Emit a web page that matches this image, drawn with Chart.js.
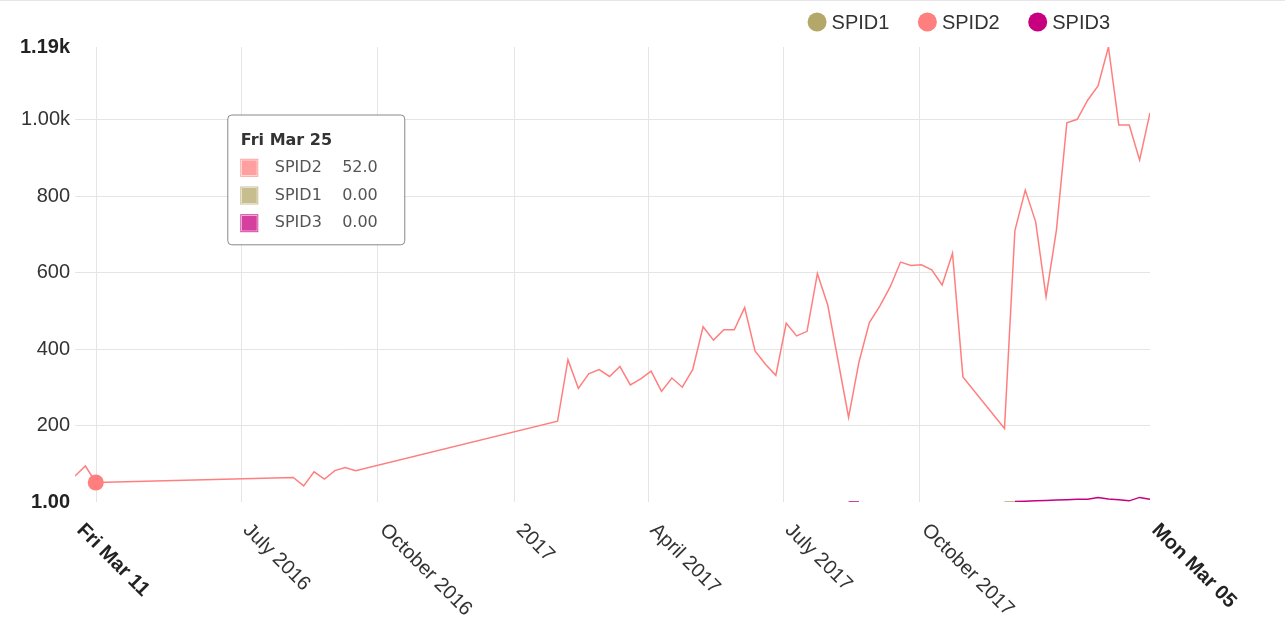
<!DOCTYPE html>
<html>
<head>
<meta charset="utf-8">
<script src="https://cdn.jsdelivr.net/npm/chart.js@4/dist/chart.umd.min.js"></script>
<style>
  html, body { margin: 0; padding: 0; background: #fff; }
  #wrap { width: 1285px; height: 618px; border-top: 1px solid #e6e6e6; position: relative; }
</style>
</head>
<body>
<div id="wrap"><canvas id="chart"></canvas></div>
<script>
// --- Data ---
// SPID2 is reported on every date below; the other two only on a few of them
const dates = [
    '2016-03-11', '2016-03-18', '2016-03-25', '2016-08-05', '2016-08-12', '2016-08-19', '2016-08-26',
    '2016-09-02', '2016-09-09', '2016-09-16',
    '2017-01-30', '2017-02-06', '2017-02-13', '2017-02-20', '2017-02-27', '2017-03-06', '2017-03-13',
    '2017-03-20', '2017-03-27', '2017-04-03', '2017-04-10', '2017-04-17', '2017-04-24', '2017-05-01',
    '2017-05-08', '2017-05-15', '2017-05-22', '2017-05-29', '2017-06-05', '2017-06-12', '2017-06-19',
    '2017-06-26', '2017-07-03', '2017-07-10', '2017-07-17', '2017-07-24', '2017-07-31',
    '2017-08-14', '2017-08-21', '2017-08-28', '2017-09-04', '2017-09-11', '2017-09-18', '2017-09-25',
    '2017-10-02', '2017-10-09', '2017-10-16', '2017-10-23', '2017-10-30',
    '2017-11-27', '2017-12-04', '2017-12-11', '2017-12-18', '2017-12-25',
    '2018-01-01', '2018-01-08', '2018-01-15', '2018-01-22', '2018-01-29', '2018-02-05', '2018-02-12',
    '2018-02-19', '2018-02-26', '2018-03-05'
];
const spid2 = [
    69, 95, 52, 65, 43, 80, 61,
    83, 91, 83,
    212, 373, 298, 336, 347, 329, 355,
    307, 323, 343, 290, 325, 301, 347,
    459, 424, 451, 451, 509, 396, 361,
    332, 468, 435, 447, 598, 515,
    222, 367, 470, 513, 563, 628, 619,
    621, 608, 568, 651, 328,
    193, 710, 816, 733, 537,
    712, 992, 1001, 1051, 1088, 1190, 986,
    986, 895, 1018
];
const spid1Dates = ['2017-11-27', '2017-12-04'];
const spid1 = [1, 1];
const spid3Dates = [
    '2017-08-14', '2017-08-21',
    '2017-12-04', '2017-12-11', '2017-12-18', '2017-12-25', '2018-01-01', '2018-01-08', '2018-01-15',
    '2018-01-22', '2018-01-29', '2018-02-05', '2018-02-12', '2018-02-19', '2018-02-26', '2018-03-05'
];
const spid3 = [1, 1, 2, 3, 4, 5, 6, 7, 8, 8, 13, 9, 7, 4, 13, 8];

const seriesNames = ['SPID1', 'SPID2', 'SPID3'];
const seriesColors = ['#b3a76a', '#ff7f7f', '#c6007e'];
const tooltipColors = ['#c8bd8f', '#ff9f9f', '#d5409f'];

const xTickDates = ['2016-03-11', '2016-07-01', '2016-10-01', '2017-01-01', '2017-04-01', '2017-07-01', '2017-10-01', '2018-03-05'];
const xTickLabels = ['Fri Mar 11', 'July 2016', 'October 2016', '2017', 'April 2017', 'July 2017', 'October 2017', 'Mon Mar 05'];
const yTickValues = [1, 200, 400, 600, 800, 1000, 1190];
const yTickLabels = ['1.00', '200', '400', '600', '800', '1.00k', '1.19k'];

const hoverDate = '2016-03-25';

// --- Helpers ---
const FONT = '"Liberation Sans", Arial, sans-serif';
const TIP_FONT = '"DejaVu Sans", sans-serif';
const GRID = '#e5e5e5';
const ts = d => Date.parse(d);

function fmt(v) {
    if (v == null || v === 0) return '0.00';
    if (Math.abs(v) >= 1000) return (v / 1000).toPrecision(3) + 'k';
    return v.toPrecision(3);
}

function shortDate(t) {
    const d = new Date(t);
    const wd = ['Sun', 'Mon', 'Tue', 'Wed', 'Thu', 'Fri', 'Sat'][d.getUTCDay()];
    const mo = ['Jan', 'Feb', 'Mar', 'Apr', 'May', 'Jun', 'Jul', 'Aug', 'Sep', 'Oct', 'Nov', 'Dec'][d.getUTCMonth()];
    return wd + ' ' + mo + ' ' + String(d.getUTCDate()).padStart(2, '0');
}

// one point per date, null where the series has no value (breaks the line)
function series(sDates, sValues) {
    return dates.map(d => {
        const i = sDates.indexOf(d);
        return { x: ts(d), y: i < 0 ? null : sValues[i] };
    });
}

const seriesData = [series(spid1Dates, spid1), series(dates, spid2), series(spid3Dates, spid3)];

const datasets = seriesNames.map((name, i) => ({
    label: name,
    data: seriesData[i],
    borderColor: seriesColors[i],
    backgroundColor: seriesColors[i],
    borderWidth: 1.5,
    pointRadius: 0,
    pointHoverRadius: 8,
    pointHoverBorderWidth: 0,
    pointHoverBackgroundColor: seriesColors[i],
    spanGaps: false,
    tension: 0
}));

const edgeColor = (c, n) => (c.index === 0 || c.index === n - 1) ? 'rgba(0,0,0,0)' : GRID;

// --- Plugins ---
const guideLine = {
    id: 'guideLine',
    beforeDatasetsDraw(chart) {
        const { ctx, chartArea } = chart;
        const x = Math.round(chart.scales.x.getPixelForValue(ts(hoverDate))) + 0.5;
        ctx.save();
        ctx.strokeStyle = GRID;
        ctx.lineWidth = 1;
        ctx.beginPath();
        ctx.moveTo(x, chartArea.top);
        ctx.lineTo(x, chartArea.bottom);
        ctx.stroke();
        ctx.restore();
    }
};

const slantedLabels = {
    id: 'slantedLabels',
    afterDraw(chart) {
        const { ctx } = chart;
        const s = chart.scales.x;
        s.ticks.forEach((t, i) => {
            const px = s.getPixelForValue(t.value);
            const edge = i === 0 || i === s.ticks.length - 1;
            ctx.save();
            ctx.translate(px + 12, s.top + 18);
            ctx.rotate(Math.PI / 4);
            ctx.font = (edge ? 'bold ' : '') + '20px ' + FONT;
            ctx.fillStyle = edge ? '#222' : '#333';
            ctx.textAlign = 'left';
            ctx.textBaseline = 'top';
            ctx.fillText(xTickLabels[i], 0, 0);
            ctx.restore();
        });
    }
};

const dotLegend = {
    id: 'dotLegend',
    afterDraw(chart) {
        const { ctx } = chart;
        const r = 9.5, gap = 5, spacing = 28.5, right = 1110, cy = 21;
        ctx.save();
        ctx.font = '20px ' + FONT;
        ctx.textBaseline = 'middle';
        const items = chart.data.datasets.map(ds => ({ label: ds.label, color: ds.borderColor, w: ctx.measureText(ds.label).width }));
        const total = items.reduce((s, it) => s + 2 * r + gap + it.w, 0) + spacing * (items.length - 1);
        let x = right - total;
        items.forEach(it => {
            ctx.fillStyle = it.color;
            ctx.beginPath();
            ctx.arc(x + r, cy, r, 0, Math.PI * 2);
            ctx.fill();
            ctx.fillStyle = '#333';
            ctx.fillText(it.label, x + 2 * r + gap, cy + 1);
            x += 2 * r + gap + it.w + spacing;
        });
        ctx.restore();
    }
};

// tooltip box sits up and to the right of the hovered date
Chart.Tooltip.positioners.besideGuide = function () {
    const ch = this.chart;
    const px = ch.scales.x.getPixelForValue(ts(hoverDate));
    return { x: px + 136, y: ch.chartArea.top + 68 };
};

// --- Chart ---
const chart = new Chart(document.getElementById('chart'), {
    type: 'line',
    data: { datasets },
    options: {
        responsive: true,
        maintainAspectRatio: false,
        animation: false,
        events: [],
        layout: { padding: { top: 46, right: 135, left: 0, bottom: 0 } },
        scales: {
            x: {
                type: 'linear',
                min: ts(xTickDates[0]),
                max: ts(xTickDates[xTickDates.length - 1]),
                afterBuildTicks: s => { s.ticks = xTickDates.map(d => ({ value: ts(d) })); },
                afterFit: s => { s.height = 117; },
                ticks: { display: false },
                grid: { color: c => edgeColor(c, xTickDates.length), drawTicks: false, lineWidth: 1 },
                border: { display: false }
            },
            y: {
                min: yTickValues[0],
                max: yTickValues[yTickValues.length - 1],
                afterBuildTicks: s => { s.ticks = yTickValues.map(v => ({ value: v })); },
                afterFit: s => { s.width = 75; },
                ticks: {
                    padding: 5,
                    color: c => (c.index === 0 || c.index === yTickValues.length - 1) ? '#222' : '#333',
                    font: c => ({
                        family: FONT, size: 20,
                        weight: (c.index === 0 || c.index === yTickValues.length - 1) ? 'bold' : 'normal'
                    }),
                    callback: (v, i) => yTickLabels[i]
                },
                grid: { color: c => edgeColor(c, yTickValues.length), drawTicks: false, lineWidth: 1 },
                border: { display: false }
            }
        },
        plugins: {
            legend: { display: false },
            tooltip: {
                position: 'besideGuide',
                xAlign: 'left',
                yAlign: 'top',
                caretSize: 0,
                caretPadding: 0,
                cornerRadius: 4,
                backgroundColor: 'rgba(255,255,255,0.95)',
                borderColor: '#888',
                borderWidth: 1,
                padding: { top: 16, right: 27, bottom: 12, left: 13 },
                titleFont: { family: TIP_FONT, size: 16, weight: 'bold' },
                titleColor: '#333',
                titleMarginBottom: 8,
                bodyFont: { family: TIP_FONT, size: 16 },
                bodyColor: '#555',
                bodySpacing: 8.5,
                boxWidth: 17,
                boxHeight: 17,
                boxPadding: 15,
                itemSort: (a, b) => (b.raw.y ?? 0) - (a.raw.y ?? 0),
                callbacks: {
                    title: items => shortDate(items[0].raw.x),
                    label: c => c.dataset.label + '    ' + fmt(c.raw.y),
                    labelColor: c => ({ borderColor: tooltipColors[c.datasetIndex], backgroundColor: tooltipColors[c.datasetIndex] })
                }
            }
        }
    },
    plugins: [guideLine, slantedLabels, dotLegend]
});

// show the hover state for the chosen date
const hi = dates.indexOf(hoverDate);
chart.setActiveElements([{ datasetIndex: 1, index: hi }]);
chart.tooltip.setActiveElements(seriesNames.map((n, i) => ({ datasetIndex: i, index: hi })), { x: 0, y: 0 });
chart.update();
</script>
</body>
</html>
